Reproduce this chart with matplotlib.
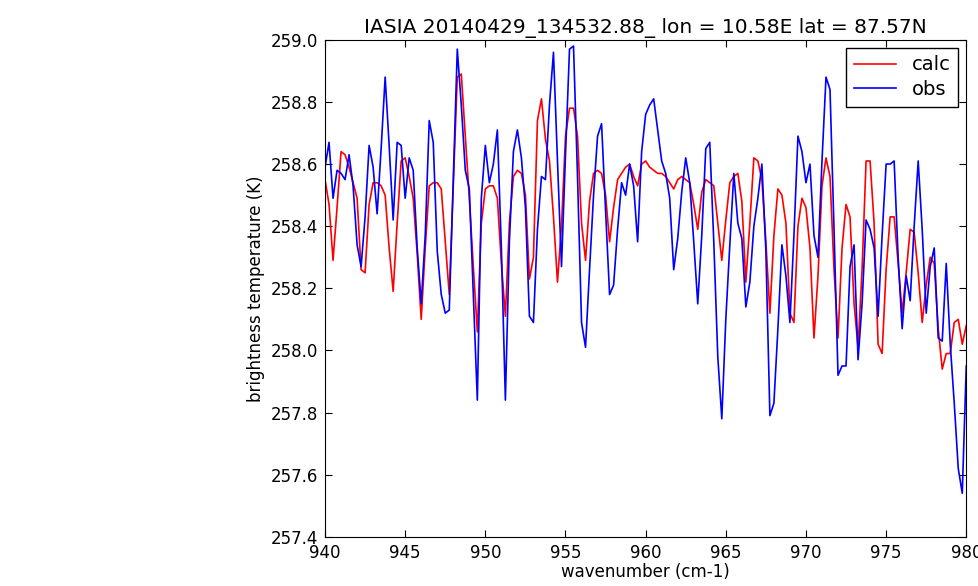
import numpy as np
import matplotlib.pyplot as plt
from matplotlib.ticker import MultipleLocator, FormatStrFormatter

# IASI channel grid, 0.25 cm-1 sampling
wn_start = 940.0
wn_step = 0.25

# observed brightness temperatures (K)
obs = [258.59, 258.67, 258.49, 258.58, 258.57, 258.55, 258.63, 258.53, 258.34, 258.27,
       258.43, 258.66, 258.59, 258.44, 258.65, 258.88, 258.66, 258.42, 258.67, 258.66,
       258.49, 258.62, 258.58, 258.33, 258.15, 258.37, 258.74, 258.67, 258.32, 258.18,
       258.12, 258.13, 258.55, 258.97, 258.79, 258.58, 258.52, 258.18, 257.84, 258.49,
       258.66, 258.54, 258.60, 258.71, 258.33, 257.84, 258.35, 258.64, 258.71, 258.62,
       258.46, 258.11, 258.09, 258.39, 258.56, 258.55, 258.79, 258.96, 258.61, 258.27,
       258.63, 258.97, 258.98, 258.56, 258.09, 258.01, 258.26, 258.50, 258.69, 258.73,
       258.45, 258.18, 258.21, 258.39, 258.54, 258.50, 258.60, 258.53, 258.35, 258.64,
       258.76, 258.79, 258.81, 258.71, 258.61, 258.57, 258.49, 258.26, 258.36, 258.51,
       258.62, 258.54, 258.35, 258.15, 258.37, 258.65, 258.67, 258.35, 257.98, 257.78,
       258.10, 258.34, 258.57, 258.41, 258.36, 258.14, 258.22, 258.40, 258.49, 258.60,
       258.32, 257.79, 257.83, 258.07, 258.34, 258.24, 258.09, 258.37, 258.69, 258.64,
       258.54, 258.60, 258.37, 258.30, 258.61, 258.88, 258.84, 258.39, 257.92, 257.95,
       257.95, 258.27, 258.34, 257.97, 258.15, 258.42, 258.39, 258.33, 258.11, 258.37,
       258.60, 258.60, 258.61, 258.30, 258.07, 258.24, 258.16, 258.40, 258.61, 258.39,
       258.12, 258.27, 258.33, 258.04, 258.03, 258.28, 258.02, 257.83, 257.62, 257.54,
       257.95]

# simulated brightness temperatures (K)
calc = [258.55, 258.47, 258.29, 258.46, 258.64, 258.63, 258.59, 258.54, 258.49, 258.26,
        258.25, 258.47, 258.54, 258.54, 258.53, 258.50, 258.33, 258.19, 258.41, 258.61,
        258.62, 258.56, 258.49, 258.31, 258.10, 258.33, 258.53, 258.54, 258.54, 258.52,
        258.35, 258.18, 258.53, 258.88, 258.89, 258.69, 258.49, 258.27, 258.06, 258.41,
        258.52, 258.53, 258.53, 258.49, 258.28, 258.11, 258.41, 258.56, 258.58, 258.57,
        258.50, 258.23, 258.30, 258.74, 258.81, 258.68, 258.61, 258.43, 258.22, 258.40,
        258.69, 258.78, 258.78, 258.69, 258.41, 258.29, 258.48, 258.57, 258.58, 258.57,
        258.50, 258.35, 258.46, 258.55, 258.57, 258.59, 258.60, 258.56, 258.53, 258.60,
        258.61, 258.59, 258.58, 258.57, 258.57, 258.56, 258.54, 258.52, 258.55, 258.56,
        258.55, 258.54, 258.47, 258.39, 258.51, 258.55, 258.54, 258.53, 258.41, 258.29,
        258.42, 258.54, 258.56, 258.57, 258.48, 258.22, 258.41, 258.62, 258.61, 258.55,
        258.35, 258.12, 258.37, 258.52, 258.50, 258.41, 258.12, 258.09, 258.40, 258.49,
        258.46, 258.33, 258.04, 258.24, 258.53, 258.62, 258.56, 258.26, 258.04, 258.33,
        258.47, 258.43, 258.15, 258.01, 258.26, 258.61, 258.61, 258.41, 258.02, 257.99,
        258.26, 258.43, 258.43, 258.28, 258.12, 258.25, 258.39, 258.38, 258.25, 258.09,
        258.21, 258.30, 258.28, 258.07, 257.94, 257.99, 257.99, 258.09, 258.10, 258.02,
        258.08]

title = 'IASIA 20140429_134532.88_ lon = 10.58E lat = 87.57N'

wn = wn_start + wn_step * np.arange(len(obs))

fig = plt.figure(figsize=(9.79, 5.86), dpi=100)
ax = fig.add_axes([0.332, 0.084, 0.655, 0.848])

ax.plot(wn, calc, color='r', lw=1.2, label='calc')
ax.plot(wn, obs, color='b', lw=1.2, label='obs')

ax.set_xlim(940, 980)
ax.set_ylim(257.4, 259.0)
ax.xaxis.set_major_locator(MultipleLocator(5))
ax.yaxis.set_major_locator(MultipleLocator(0.2))
ax.yaxis.set_major_formatter(FormatStrFormatter('%.1f'))
ax.tick_params(direction='in', top=True, right=True, length=5, labelsize=12, pad=5)

ax.set_xlabel('wavenumber (cm-1)', fontsize=12, labelpad=1)
ax.set_ylabel('brightness temperature (K)', fontsize=12, labelpad=4)
ax.set_title(title, fontsize=14.5, pad=5)

leg = ax.legend(loc='upper right', fontsize=14, fancybox=False, framealpha=1,
                handlelength=2.2, borderaxespad=0.4, labelspacing=0.3)
leg.get_frame().set_edgecolor('black')

fig.savefig('out.png', dpi=100)
